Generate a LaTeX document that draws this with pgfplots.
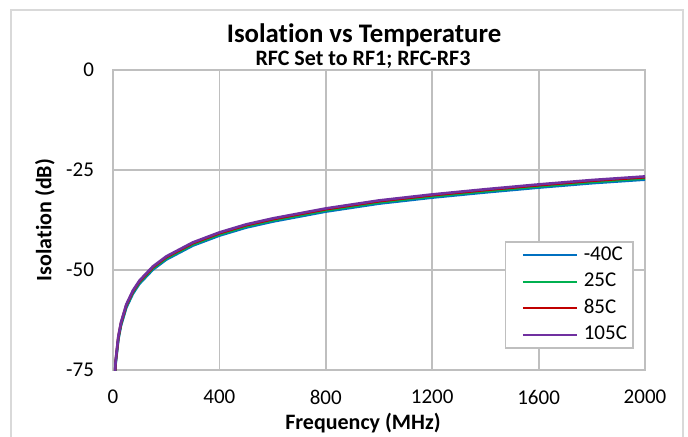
\documentclass[border=0pt]{standalone}
\usepackage{pgfplots}
\pgfplotsset{compat=1.18}
\usepackage{fontspec}
\setmainfont[Ligatures={NoCommon}]{Carlito}
\definecolor{cblue}{RGB}{0,112,192}
\definecolor{cgreen}{RGB}{0,176,80}
\definecolor{cred}{RGB}{192,0,0}
\definecolor{cpurple}{RGB}{112,48,160}
\definecolor{gridgray}{RGB}{191,191,191}
\definecolor{framegray}{RGB}{217,217,217}
\begin{document}
\begin{tikzpicture}
\useasboundingbox (-56.5pt,-33pt) rectangle (287.5pt,185pt);
\draw[framegray, line width=0.6pt] (-51pt,-40pt) -- (-51pt,180pt) -- (285pt,180pt) -- (285pt,-40pt);
\begin{axis}[
  at={(0pt,0pt)}, anchor=south west,
  scale only axis, width=266pt, height=150pt,
  xmin=0, xmax=2000, ymin=-75, ymax=0,
  xtick={0,400,...,2000}, ytick={-75,-50,-25,0},
  grid=major,
  grid style={gridgray, line width=0.9pt},
  axis line style={gridgray, line width=0.9pt},
  tick style={draw=none},
  /pgf/number format/assume math mode=true,
  /pgf/number format/1000 sep={},
  ticklabel style={font=\fontsize{10.5}{12}\selectfont},
  xticklabel style={yshift=-6.5pt},
  yticklabel style={xshift=-6pt},
  legend style={at={(0.979,0.07)}, anchor=south east, draw=gridgray, line width=0.9pt,
    font=\fontsize{10.5}{12}\selectfont, row sep=0pt, inner xsep=0pt, inner ysep=0pt,
    nodes={text height=7.6pt, text depth=2.5pt, inner ysep=1.6pt, inner xsep=3pt},
    column sep=0pt},
  legend cell align=left,
  legend image code/.code={\path (0pt,0pt); \draw[#1, line width=1pt] (8pt,0pt) -- (35pt,0pt);},
  clip=true,
]
\addplot[cblue, line width=1.3pt] coordinates {
(5,-79.6)(10,-73.4)(20,-67.4)(30,-63.9)(50,-59.4)(75,-55.9)(100,-53.4)(150,-49.9)(200,-47.4)(300,-43.9)(400,-41.4)(500,-39.4)(600,-37.9)(800,-35.4)(1000,-33.4)(1200,-31.9)(1400,-30.6)(1600,-29.4)(1800,-28.3)(2000,-27.4)};
\addlegendentry{-40C}
\addplot[cgreen, line width=1.3pt] coordinates {
(5,-79.3)(10,-73.1)(20,-67.1)(30,-63.6)(50,-59.1)(75,-55.6)(100,-53.1)(150,-49.6)(200,-47.1)(300,-43.6)(400,-41.1)(500,-39.1)(600,-37.6)(800,-35.1)(1000,-33.1)(1200,-31.6)(1400,-30.3)(1600,-29.1)(1800,-28.0)(2000,-27.1)};
\addlegendentry{25C}
\addplot[cred, line width=1.3pt] coordinates {
(5,-79.0)(10,-72.8)(20,-66.8)(30,-63.3)(50,-58.8)(75,-55.3)(100,-52.8)(150,-49.3)(200,-46.8)(300,-43.3)(400,-40.8)(500,-38.8)(600,-37.3)(800,-34.8)(1000,-32.8)(1200,-31.3)(1400,-30.0)(1600,-28.8)(1800,-27.7)(2000,-26.8)};
\addlegendentry{85C}
\addplot[cpurple, line width=1.3pt] coordinates {
(5,-78.8)(10,-72.6)(20,-66.6)(30,-63.1)(50,-58.6)(75,-55.1)(100,-52.6)(150,-49.1)(200,-46.6)(300,-43.1)(400,-40.6)(500,-38.6)(600,-37.1)(800,-34.6)(1000,-32.6)(1200,-31.1)(1400,-29.8)(1600,-28.6)(1800,-27.5)(2000,-26.6)};
\addlegendentry{105C}
\end{axis}
\node[font=\bfseries\fontsize{13.4}{15}\selectfont] at (125.5pt,167.5pt) {Isolation vs Temperature};
\node[font=\bfseries\fontsize{11}{12}\selectfont] at (125pt,155pt) {RFC Set to RF1; RFC-RF3};
\node[font=\bfseries\fontsize{11}{12}\selectfont, rotate=90] at (-34pt,75pt) {Isolation (dB)};
\node[font=\bfseries\fontsize{11}{12}\selectfont] at (125pt,-26.5pt) {Frequency (MHz)};
\end{tikzpicture}
\end{document}
